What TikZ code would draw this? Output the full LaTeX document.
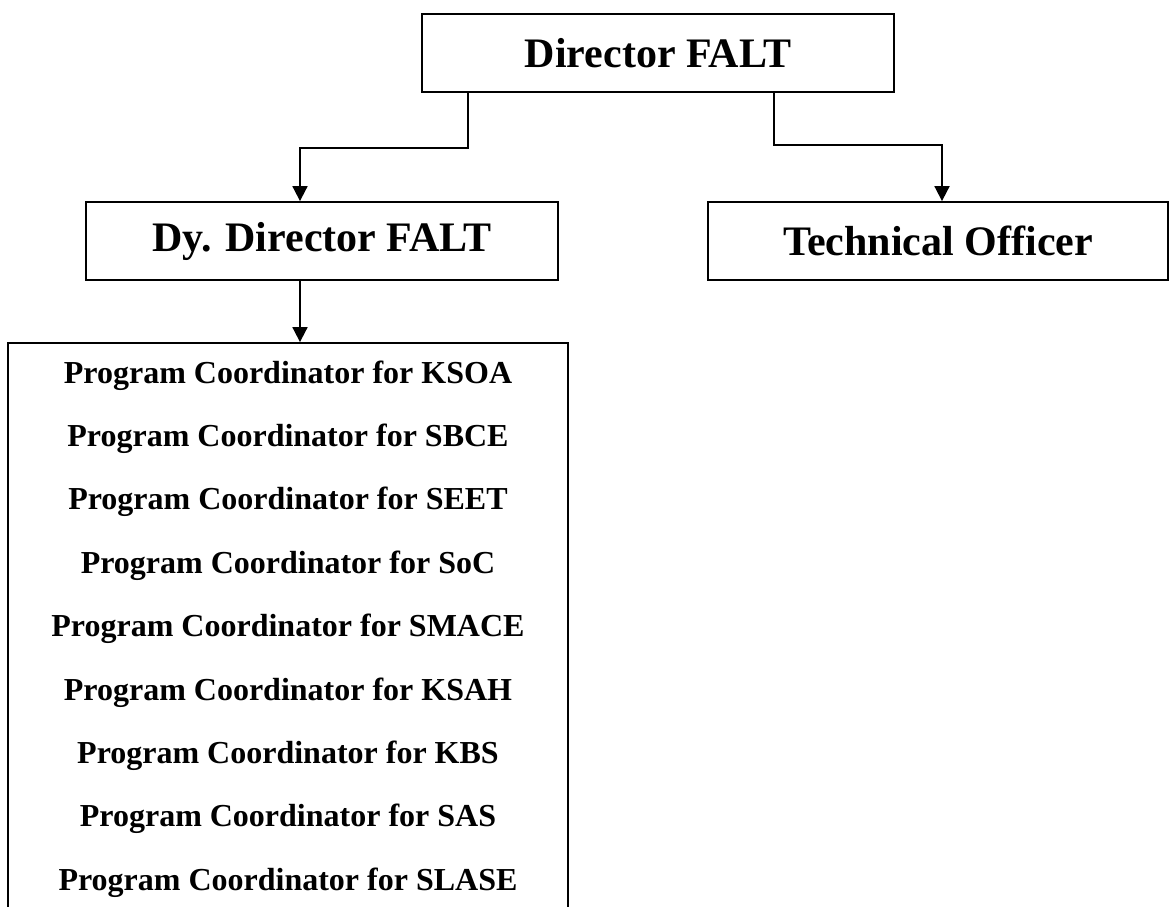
\documentclass[tikz,border=0pt]{standalone}
\usepackage{fontspec}
\setmainfont{Liberation Serif}
\usetikzlibrary{arrows.meta}
\begin{document}
\begin{tikzpicture}[x=1pt,y=-1pt,
  box/.style={draw,line width=1.8pt,inner sep=0pt,minimum height=78pt,
    font=\fontsize{42}{50}\selectfont\bfseries},
  arr/.style={line width=1.8pt,-{Triangle[length=15pt,width=15pt]}},
  rowtext/.style={anchor=base,inner sep=0pt,font=\fontsize{32}{38}\selectfont\bfseries}]
\useasboundingbox (0,0) rectangle (1170,907);
\node[box,minimum width=472pt] (dir) at (658,53) {Director FALT};
\node[box,minimum width=472pt] (dy) at (322,241) {Dy. Director FALT};
\node[box,minimum width=460pt] (tech) at (938,241) {Technical Officer};
\node[draw,line width=1.8pt,inner sep=0pt,minimum width=560pt,minimum height=657pt] (big) at (288,671.5) {};
\node[rowtext] (r1) at (288,383) {Program Coordinator for KSOA};
\node[rowtext] (r2) at (288,446.4) {Program Coordinator for SBCE};
\node[rowtext] (r3) at (288,509.8) {Program Coordinator for SEET};
\node[rowtext] (r4) at (288,573.2) {Program Coordinator for SoC};
\node[rowtext] (r5) at (288,636.6) {Program Coordinator for SMACE};
\node[rowtext] (r6) at (288,700) {Program Coordinator for KSAH};
\node[rowtext] (r7) at (288,763.4) {Program Coordinator for KBS};
\node[rowtext] (r8) at (288,826.8) {Program Coordinator for SAS};
\node[rowtext] (r9) at (288,890.2) {Program Coordinator for SLASE};
\draw[arr] ([xshift=-190pt]dir.south) -- ++(0,55) -| ([xshift=-22pt]dy.north);
\draw[arr] ([xshift=116pt]dir.south) -- ++(0,52) -| ([xshift=4pt]tech.north);
\draw[arr] ([xshift=-22pt]dy.south) -- ([xshift=12pt]big.north);
\end{tikzpicture}
\end{document}
